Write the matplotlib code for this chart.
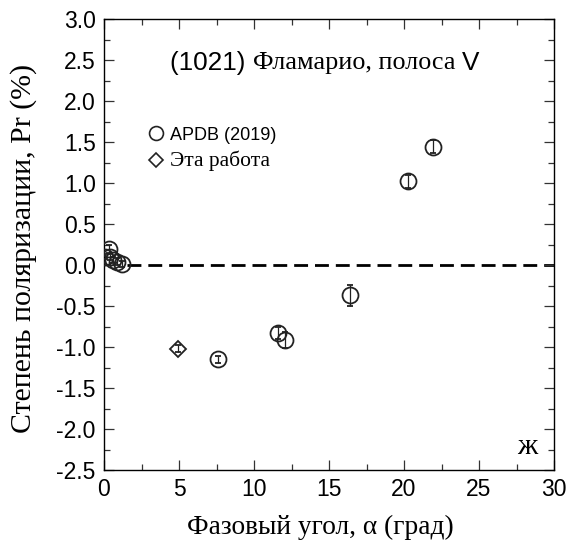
import matplotlib
matplotlib.use("Agg")
import matplotlib.pyplot as plt
from matplotlib.lines import Line2D

# APDB (2019) measurements of (1021) Flammario, V band
apdb_alpha = [0.07, 0.33, 0.40, 0.62, 0.84, 1.18, 7.62, 11.58, 12.07, 16.40, 20.24, 21.96]
apdb_pr = [0.10, 0.20, 0.10, 0.06, 0.04, 0.01, -1.15, -0.83, -0.915, -0.37, 1.02, 1.44]
apdb_err = [0.03, 0.05, 0.04, 0.04, 0.04, 0.04, 0.04, 0.07, 0.10, 0.13, 0.08, 0.08]

# this work
our_alpha = [4.95]
our_pr = [-1.02]
our_err = [0.04]

SANS = "Liberation Sans"
SERIF = "Liberation Serif"

fig = plt.figure(figsize=(5.7, 5.42), dpi=100)
ax = fig.add_axes([104 / 570, 72 / 542, 450 / 570, 451 / 542])

ax.axhline(0, xmin=1.5 / 30, xmax=1, color="black", lw=2, ls=(0, (5, 2.5)), zorder=1)

ax.errorbar(apdb_alpha, apdb_pr, yerr=apdb_err, fmt="o", ms=11.5, mfc="none",
            mec="#222222", mew=1.3, ecolor="#222222", elinewidth=0.9, capsize=2.5,
            capthick=0.9, zorder=3)
ax.errorbar(our_alpha, our_pr, yerr=our_err, fmt="D", ms=8.5, mfc="none",
            mec="#222222", mew=1.3, ecolor="#222222", elinewidth=0.9, capsize=2.5,
            capthick=0.9, zorder=3)

ax.set_xlim(0, 30)
ax.set_ylim(-2.5, 3.0)
ax.set_xticks(range(0, 31, 5))
ax.set_xticks([2.5 + 5 * i for i in range(6)], minor=True)
ax.set_yticks([-2.5 + 0.5 * i for i in range(12)])
ax.set_yticks([-2.25 + 0.5 * i for i in range(11)], minor=True)
ax.yaxis.set_major_formatter(matplotlib.ticker.FormatStrFormatter("%.1f"))
ax.tick_params(which="both", direction="in", top=True, right=True, width=0.9,
               color="#333333")
ax.tick_params(which="major", length=7, labelsize=16.5, pad=6)
ax.tick_params(which="minor", length=4)
for lab in ax.get_xticklabels() + ax.get_yticklabels():
    lab.set_family(SANS)
for s in ax.spines.values():
    s.set_linewidth(1.0)

fig.text(320 / 570, 1 - 527 / 542, "Фазовый угол, α (град)", family=SERIF,
         fontsize=19.7, ha="center", va="center")
fig.text(24 / 570, 1 - 248 / 542, "Степень поляризации, Pr (%)", family=SERIF,
         fontsize=21.5, ha="center", va="center", rotation=90)

# title made of sans and serif pieces laid end to end
pieces = [("(1021) ", SANS), ("Фламарио, полоса ", SERIF), ("V", SANS)]
fig.canvas.draw()
renderer = fig.canvas.get_renderer()
x0 = 170
for txt, fam in pieces:
    t = fig.text(x0 / 570, 1 - 63 / 542, txt, family=fam, fontsize=18.8,
                 ha="left", va="center")
    x0 += t.get_window_extent(renderer).width

ax.text(28.2, -2.22, "ж", family=SERIF, fontsize=21, ha="center", va="center")

handles = [
    Line2D([], [], ls="none", marker="o", ms=10, mfc="none", mec="#222222", mew=1.2),
    Line2D([], [], ls="none", marker="D", ms=7, mfc="none", mec="#222222", mew=1.2),
]
leg = ax.legend(handles, ["APDB (2019)", "Эта работа"], loc="center left",
                bbox_to_anchor=(0.078, 0.712), frameon=False, handlelength=0.9,
                handletextpad=0.3, labelspacing=0.4, borderpad=0, fontsize=13)
leg.get_texts()[0].set_family(SANS)
leg.get_texts()[1].set_family(SERIF)
leg.get_texts()[1].set_fontsize(15.5)

fig.savefig("out.png", dpi=100)
